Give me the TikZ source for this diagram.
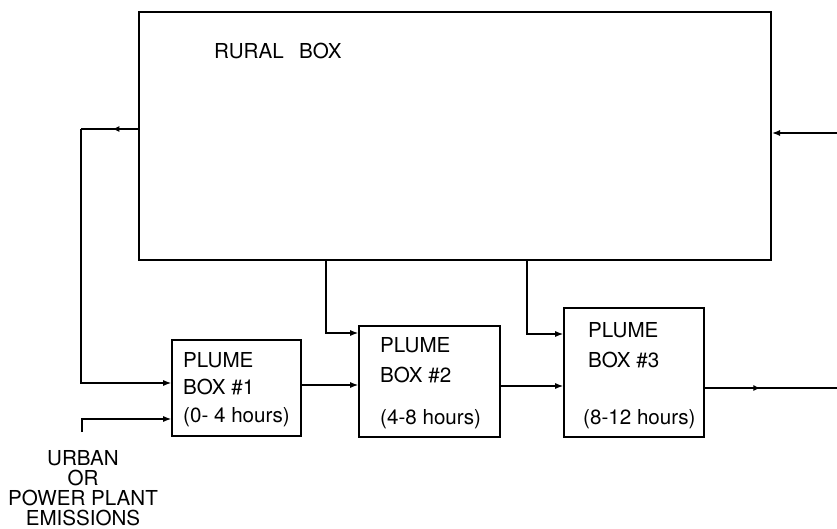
\documentclass[tikz,border=0pt]{standalone}
\usepackage{fontspec}
\setmainfont{TeX Gyre Heros}
\usetikzlibrary{arrows.meta,decorations.markings}
\begin{document}
\begin{tikzpicture}[x=1pt,y=-1pt,
  bigbox/.style={draw,line width=2pt,inner sep=0pt},
  plumebox/.style={draw,line width=1.6pt,inner sep=0pt},
  lbl/.style={font=\fontsize{20.6}{24}\selectfont,inner sep=0pt,anchor=base west},
  conn/.style={line width=1.3pt},
  tip/.style={-{Latex[length=8pt,width=6pt]}},
  midtip/.style={postaction=decorate,decoration={markings,mark=at position #1 with {\arrow{Latex[length=7pt,width=6pt]}}}}
]
\useasboundingbox[fill=white] (0,0) rectangle (837,529);

% boxes
\node[bigbox,minimum width=632pt,minimum height=248pt] (rural) at (455,136) {};
\node[lbl] (ruraltxt) at (214,59) {RURAL\hspace{0.75em}BOX};

\node[plumebox,minimum width=129pt,minimum height=96pt] (b1) at (236.5,388) {};
\node[plumebox,minimum width=141pt,minimum height=111pt] (b2) at (429.5,381.5) {};
\node[plumebox,minimum width=140pt,minimum height=129pt] (b3) at (634,372.5) {};

\node[lbl] (t1a) at (183,367) {PLUME};
\node[lbl] (t1b) at (183,394) {BOX \#1};
\node[lbl] (t1c) at (183,422) {(0- 4 hours)};

\node[lbl] (t2a) at (380,352) {PLUME};
\node[lbl] (t2b) at (380,382) {BOX \#2};
\node[lbl] (t2c) at (380,424) {(4-8 hours)};

\node[lbl] (t3a) at (588,337) {PLUME};
\node[lbl] (t3b) at (588,367) {BOX \#3};
\node[lbl] (t3c) at (583,424) {(8-12 hours)};

\node[font=\fontsize{20.6}{20}\selectfont,align=center,inner sep=0pt,anchor=north] (emtxt) at (83,450) {URBAN\\OR\\POWER PLANT\\EMISSIONS};

% junction coordinates
\coordinate (fb) at (81,129);
\coordinate (fbin) at (81,383);
\coordinate (em) at (82,432);
\coordinate (emc) at (82,419);
\coordinate (r2) at (326,333);
\coordinate (r3) at (527,334);
\coordinate (inR) at (837,133);
\coordinate (outR) at (837,388);
\coordinate (a12) at ([yshift=3pt]b1.east);
\coordinate (a23) at ([yshift=-4.5pt]b2.east);
\coordinate (a3o) at ([yshift=-15.5pt]b3.east);

% connectors
\draw[conn,midtip=0.45] (fb -| rural.west) -- (fb);
\draw[conn,tip] (fb) -- (fbin) -- (fbin -| b1.west);
\draw[conn,tip] (em) -- (emc) -- (emc -| b1.west);
\draw[conn,tip] (a12) -- (a12 -| b2.west);
\draw[conn,tip] (a23) -- (a23 -| b3.west);
\draw[conn,tip] (r2 |- rural.south) -- (r2) -- (r2 -| b2.west);
\draw[conn,tip] (r3 |- rural.south) -- (r3) -- (r3 -| b3.west);
\draw[conn,midtip=0.42] (a3o) -- (a3o -| outR);
\draw[conn,tip] (inR) -- (inR -| rural.east);
\end{tikzpicture}
\end{document}
